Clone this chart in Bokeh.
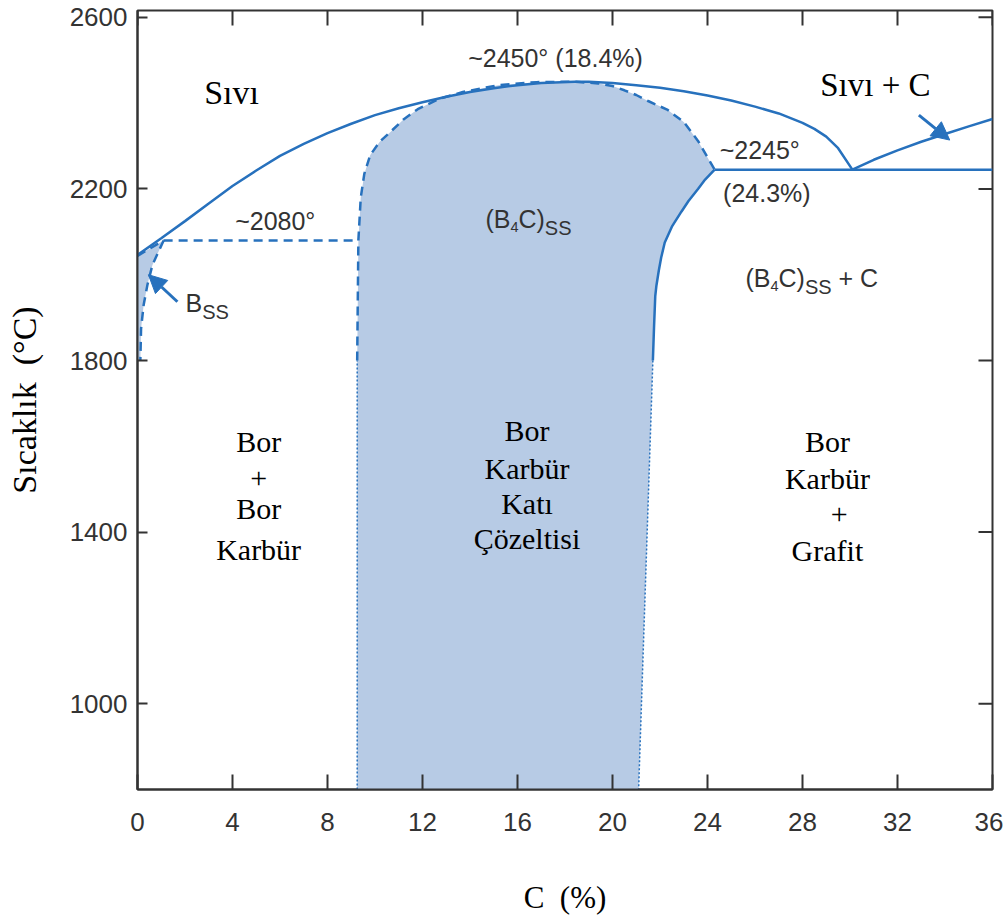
import math
from bokeh.plotting import figure
from bokeh.models import Label, Arrow, NormalHead, FixedTicker, Range1d
from bokeh.embed import file_html
from bokeh.resources import INLINE

# ---------------- data ----------------
x_ticks = [0, 4, 8, 12, 16, 20, 24, 28, 32, 36]
y_ticks = [1000, 1400, 1800, 2200, 2600]
x_lim = [0, 36]
y_lim = [800, 2616]

# liquidus, boron-rich side up to the eutectic
liq_c = [0, 1, 2, 3, 4, 5, 6, 7, 8, 9, 10, 11, 12, 13, 14, 15, 16, 17, 18.4, 19, 20, 21, 22, 23, 24,
         25, 26, 27, 28, 28.5, 29, 29.5, 30.1]
liq_t = [2046, 2085, 2125, 2166, 2207, 2243, 2277, 2305, 2330, 2352, 2372, 2388, 2402, 2415, 2426, 2435,
         2442, 2447, 2450, 2450, 2447, 2442, 2436, 2428, 2418, 2406, 2392, 2376, 2354, 2340, 2322, 2295, 2245]
# liquidus, carbon-rich side
liq2_c = [30.1, 31, 32, 33, 34, 35, 36]
liq2_t = [2245, 2268, 2290, 2310, 2328, 2346, 2363]
# eutectic isotherm ~2245
eut_c = [24.3, 36]
eut_t = [2245, 2245]
# isotherm ~2080
iso_c = [1.1, 9.3]
iso_t = [2080, 2080]
# B4C solid solution: left lower (dotted)
b4l_dot_c = [9.25, 9.25]
b4l_dot_t = [800, 1800]
# B4C solid solution: left/top boundary (dashed)
b4_dash_c = [9.25, 9.3, 9.4, 9.55, 9.8, 10.2, 10.65, 11.2, 11.8, 12.7, 13.7, 15.2, 16.8, 18.4, 19.4,
             20.0, 20.5, 21.0, 21.5, 22.3, 23.0, 23.6, 24.3]
b4_dash_t = [1800, 2080, 2180, 2235, 2279, 2310, 2333, 2362, 2386, 2410, 2426, 2442, 2449, 2450, 2446,
             2440, 2430, 2419, 2405, 2385, 2356, 2312, 2245]
# B4C solid solution: right solvus (solid)
b4r_c = [24.3, 23.9, 23.6, 23.2, 22.9, 22.5, 22.2, 22.05, 21.95, 21.85, 21.8, 21.75, 21.7]
b4r_t = [2245, 2222, 2200, 2172, 2147, 2112, 2075, 2040, 2010, 1975, 1950, 1880, 1800]
# B4C solid solution: right lower (dotted)
b4r_dot_c = [21.7, 21.1]
b4r_dot_t = [1800, 800]
# boron solid solution (dashed)
bss_top_c = [0, 1.1]
bss_top_t = [2044, 2080]
bss_c = [1.1, 0.63, 0.42, 0.26, 0.15, 0.12]
bss_t = [2080, 2023, 1977, 1930, 1874, 1800]

BLUE = "#2771bd"
FILL = "#b7cbe5"
DARK = "#333333"
SANS = "Liberation Sans"
SERIF = "Liberation Serif"

p = figure(width=1003, height=917, x_range=Range1d(*x_lim), y_range=Range1d(*y_lim),
           output_backend="svg", toolbar_location=None,
           min_border_left=137, min_border_right=11, min_border_top=10, min_border_bottom=128,
           background_fill_color="white", border_fill_color="white",
           outline_line_color=DARK, outline_line_width=2)
p.xgrid.visible = False
p.ygrid.visible = False

# ---------------- fills ----------------
b4_poly_c = b4l_dot_c + b4_dash_c[1:] + b4r_c[1:] + b4r_dot_c[1:]
b4_poly_t = b4l_dot_t + b4_dash_t[1:] + b4r_t[1:] + b4r_dot_t[1:]
p.patch(b4_poly_c, b4_poly_t, fill_color=FILL, line_color=None)
bss_poly_c = bss_top_c + bss_c[1:] + [0]
bss_poly_t = bss_top_t + bss_t[1:] + [1800]
p.patch(bss_poly_c, bss_poly_t, fill_color=FILL, line_color=None)

# ---------------- lines ----------------
p.line(liq_c, liq_t, line_color=BLUE, line_width=2.5)
p.line(liq2_c, liq2_t, line_color=BLUE, line_width=2.5)
p.line(eut_c, eut_t, line_color=BLUE, line_width=2.5)
p.line(b4r_c, b4r_t, line_color=BLUE, line_width=2.5)
p.line(iso_c, iso_t, line_color=BLUE, line_width=2.5, line_dash="9 6")
p.line(b4_dash_c, b4_dash_t, line_color=BLUE, line_width=2.5, line_dash="9 6")
p.line(bss_top_c, bss_top_t, line_color=BLUE, line_width=2.5, line_dash="9 6")
p.line(bss_c, bss_t, line_color=BLUE, line_width=2.5, line_dash="9 6")
p.line(b4l_dot_c, b4l_dot_t, line_color=BLUE, line_width=1.5, line_dash="2 2")
p.line(b4r_dot_c, b4r_dot_t, line_color=BLUE, line_width=1.5, line_dash="2 2")

# ---------------- arrows ----------------
p.add_layout(Arrow(end=NormalHead(size=18, fill_color=BLUE, line_color=BLUE),
                   x_start=1.68, y_start=1937, x_end=0.46, y_end=2000,
                   line_color=BLUE, line_width=3))
p.add_layout(Arrow(end=NormalHead(size=18, fill_color=BLUE, line_color=BLUE),
                   x_start=32.9, y_start=2372, x_end=34.2, y_end=2314,
                   line_color=BLUE, line_width=3))

# ---------------- mirrored ticks on top and right (half of each dash is clipped by the frame) ----------------
p.scatter(x_ticks, [y_lim[1]] * len(x_ticks), marker="dash", size=30, angle=math.pi / 2,
          line_color=DARK, line_width=2)
p.scatter([x_lim[1]] * len(y_ticks), y_ticks, marker="dash", size=28,
          line_color=DARK, line_width=2)

# ---------------- axes ----------------
for ax in p.xaxis + p.yaxis:
    ax.axis_line_color = DARK
    ax.axis_line_width = 2
    ax.major_tick_line_color = DARK
    ax.major_tick_line_width = 2
    ax.major_tick_out = 0
    ax.minor_tick_line_color = None
    ax.major_label_text_font = SANS
    ax.major_label_text_font_size = "26px"
    ax.major_label_text_color = DARK
    ax.axis_label_text_font = SERIF
    ax.axis_label_text_font_style = "normal"
    ax.axis_label_text_color = "black"
p.xaxis.ticker = FixedTicker(ticks=x_ticks)
p.yaxis.ticker = FixedTicker(ticks=y_ticks)
p.xaxis.major_tick_in = 15
p.yaxis.major_tick_in = 10
p.xaxis.major_label_standoff = 23
p.yaxis.major_label_standoff = 10
p.xaxis.axis_label = "C\u00a0\u00a0(%)"
p.yaxis.axis_label = "Sıcaklık\u00a0\u00a0(°C)"
p.xaxis.axis_label_text_font_size = "31px"
p.yaxis.axis_label_text_font_size = "34px"
p.xaxis.axis_label_standoff = 46
p.yaxis.axis_label_standoff = 24

# ---------------- labels ----------------
def lab(x, y, text, size, font=SANS, color=DARK, align="center", xo=0, yo=0):
    p.add_layout(Label(x=x, y=y, text=text, text_font=font, text_font_size=f"{size}px",
                       text_color=color, text_align=align, text_baseline="middle",
                       x_offset=xo, y_offset=yo))

W = {"(": 0.333, ")": 0.333, "B": 0.667, "C": 0.722, "S": 0.667, "4": 0.556, "+": 0.584, " ": 0.278}

def rich(x, y, parts, size):
    off = 0.0
    for txt, kind in parts:
        if kind == "n":
            s, dy = size, 0
        elif kind == "s4":
            s, dy = size * 0.58, -8
        elif kind == "sp":
            off += 0.278 * size
            continue
        else:
            s, dy = size * 0.8, -9
        lab(x, y, txt, round(s, 1), align="left", xo=off, yo=dy)
        off += sum(W.get(ch, 0.556) for ch in txt) * s

lab(3.96, 2426, "Sıvı", 34, font=SERIF, color="black")
lab(31.07, 2442, "Sıvı + C", 33, font=SERIF, color="black")
lab(17.6, 2505, "~2450° (18.4%)", 25)
lab(5.8, 2126, "~2080°", 25)
lab(26.2, 2290, "~2245°", 25)
lab(26.5, 2191, "(24.3%)", 25)
rich(14.65, 2129, [("(B", "n"), ("4", "s4"), ("C)", "n"), ("SS", "ss")], 25)
rich(25.6, 1992, [("(B", "n"), ("4", "s4"), ("C)", "n"), ("SS", "ss"), ("", "sp"), ("+ C", "n")], 25)
rich(2.02, 1933, [("B", "n"), ("SS", "ss")], 25)

left_lines = ["Bor", "+", "Bor", "Karbür"]
left_t = [1612, 1526, 1456, 1360]
for t, y in zip(left_lines, left_t):
    lab(5.1, y, t, 30, font=SERIF, color="black")
mid_lines = ["Bor", "Karbür", "Katı", "Çözeltisi"]
mid_t = [1637, 1549, 1467, 1384]
for t, y in zip(mid_lines, mid_t):
    lab(16.4, y, t, 30, font=SERIF, color="black")
right_lines = ["Bor", "Karbür", "+", "Grafit"]
right_t = [1612, 1526, 1442, 1356]
right_x = [29.05, 29.05, 29.55, 29.05]
for t, y, x in zip(right_lines, right_t, right_x):
    lab(x, y, t, 30, font=SERIF, color="black")

open("out.html", "w").write(file_html(p, INLINE))
